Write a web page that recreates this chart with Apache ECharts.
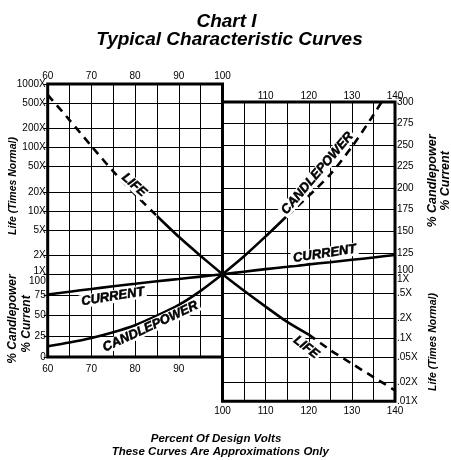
<!DOCTYPE html>
<html><head><meta charset="utf-8">
<script src="https://cdn.jsdelivr.net/npm/echarts@6/dist/echarts.min.js"></script>
<style>html,body{margin:0;padding:0;background:#fff}#c{width:451px;height:460px}</style>
</head><body><div id="c"></div>
<script>
// ---- data ----
const voltsLeft  = [60, 65, 70, 75, 80, 85, 90, 95, 100];
const voltsRight = [100, 105, 110, 115, 120, 125, 130, 135, 140];
const lifeLeft   = [676, 270, 105, 42, 18.2, 8.3, 3.9, 1.95, 1];
const lifeRight  = [1, 0.55, 0.31, 0.178, 0.112, 0.064, 0.039, 0.024, 0.0148];
const candleLeft  = [13, 17.5, 23, 30, 38.5, 50, 63, 80, 100];
const candleRight = [100, 121, 144, 168, 191, 216, 248, 285, 325];
const currentLeft  = [75.5, 79, 82.3, 85.5, 88.5, 91.5, 94.3, 97.2, 100];
const currentRight = [100, 103, 106, 108.7, 111.5, 114, 116.8, 119.5, 122.5];

const lifeTicksLeft = [1000, 500, 200, 100, 50, 20, 10, 5, 2, 1];
const lifeTickLabelsLeft = ['1000X', '500X', '200X', '100X', '50X', '20X', '10X', '5X', '2X', '1X'];
const lifeTicksRight = [1, 0.5, 0.2, 0.1, 0.05, 0.02, 0.01];
const lifeTickLabelsRight = ['1X', '.5X', '.2X', '.1X', '.05X', '.02X', '.01X'];
const pctTicksLeft = [0, 25, 50, 75, 100];
const pctTicksRight = [100, 125, 150, 175, 200, 225, 250, 275, 300];
const voltTicksTopLeft = [60, 70, 80, 90, 100];
const voltTicksBottomLeft = [60, 70, 80, 90];
const voltTicksTopRight = [110, 120, 130, 140];
const voltTicksBottomRight = [100, 110, 120, 130, 140];

// curve annotation texts (data coordinates)
const curveLabels = [
  {text: 'LIFE', volts: 79.75, value: 25.6, grid: 0, axis: 'life'},
  {text: 'CURRENT', volts: 74.9, value: 72.9, grid: 0, axis: 'pct'},
  {text: 'CANDLEPOWER', volts: 83.5, value: 36.6, grid: 0, axis: 'pct'},
  {text: 'CANDLEPOWER', volts: 122.0, value: 217.2, grid: 1, axis: 'pct'},
  {text: 'CURRENT', volts: 123.7, value: 123.9, grid: 1, axis: 'pct'},
  {text: 'LIFE', volts: 119.4, value: 0.0706, grid: 1, axis: 'life'}
];
const labelAngles = [-42, 9, 25, 49.5, 8.5, -38];

// ---- chart ----
const FONT = 'Liberation Sans';
const log = v => Math.log10(v);
function nearestIdx(arr, v) {
  let b = 0;
  for (let i = 1; i < arr.length; i++) if (Math.abs(arr[i] - v) < Math.abs(arr[b] - v)) b = i;
  return b;
}
function seg(xs, ys, a, b, tf) {
  const out = [];
  for (let i = a; i <= b; i++) out.push([xs[i], tf ? tf(ys[i]) : ys[i]]);
  return out;
}
const axisText = {color: '#000', fontSize: 10, fontFamily: FONT};
const split = {show: true, lineStyle: {color: '#000', width: 1}};
const noLine = {show: false};

const lifeLeftLog = lifeTicksLeft.map(log);
const lifeRightLog = lifeTicksRight.map(log);

function xAx(grid, pos, min, max, ticks, margin, showSplit) {
  return {
    gridIndex: grid, type: 'value', position: pos, min: min, max: max, interval: 5,
    axisLine: noLine, axisTick: {show: false},
    splitLine: showSplit ? split : {show: false},
    axisLabel: Object.assign({}, axisText, {margin: margin, customValues: ticks})
  };
}

// y axes: 0 life-left, 1 pct-left, 2 pct-right, 3 life-right
const yAxes = [
  {
    gridIndex: 0, type: 'value', position: 'left', min: -1.304, max: 3 + 1e-9,
    axisLine: noLine,
    axisTick: {show: true, length: 4, customValues: lifeLeftLog, lineStyle: {color: '#000'}},
    axisLabel: Object.assign({}, axisText, {
      margin: 2, customValues: lifeLeftLog,
      formatter: v => { const i = nearestIdx(lifeLeftLog, v); const s = lifeTickLabelsLeft[i]; return lifeTicksLeft[i] === 1 ? '{up|' + s + '}' : s; },
      rich: {up: Object.assign({}, axisText, {padding: [0, 0, 7, 0]})}
    }),
    splitLine: split
  },
  {
    gridIndex: 0, type: 'value', position: 'left', min: 0, max: 330.1,
    axisLine: noLine,
    axisTick: {show: true, length: 4, customValues: pctTicksLeft, lineStyle: {color: '#000'}},
    axisLabel: Object.assign({}, axisText, {
      margin: 2, customValues: pctTicksLeft,
      formatter: v => { const i = nearestIdx(pctTicksLeft, v); const s = String(pctTicksLeft[i]); return pctTicksLeft[i] === 100 ? '{dn|' + s + '}' : s; },
      rich: {dn: Object.assign({}, axisText, {padding: [13, 0, 0, 0]})}
    }),
    splitLine: split
  },
  {
    gridIndex: 1, type: 'value', position: 'right', min: -47.3, max: 300,
    axisLine: noLine,
    axisTick: {show: false, customValues: pctTicksRight},
    axisLabel: Object.assign({}, axisText, {
      margin: 2, customValues: pctTicksRight,
      formatter: v => { const i = nearestIdx(pctTicksRight, v); const s = String(pctTicksRight[i]); return pctTicksRight[i] === 100 ? '{up|' + s + '}' : s; },
      rich: {up: Object.assign({}, axisText, {padding: [0, 0, 8, 0]})}
    }),
    splitLine: split
  },
  {
    gridIndex: 1, type: 'value', position: 'right', min: -2 - 1e-9, max: 2.717,
    axisLine: noLine,
    axisTick: {show: false, customValues: lifeRightLog},
    axisLabel: Object.assign({}, axisText, {
      margin: 2, customValues: lifeRightLog,
      formatter: v => { const i = nearestIdx(lifeRightLog, v); const s = lifeTickLabelsRight[i]; return lifeTicksRight[i] === 1 ? '{dn|' + s + '}' : s; },
      rich: {dn: Object.assign({}, axisText, {padding: [10, 0, 0, 0]})}
    }),
    splitLine: split
  }
];

function lineSeries(data, xi, yi, dashed) {
  return {
    type: 'line', data: data, xAxisIndex: xi, yAxisIndex: yi,
    showSymbol: false, symbol: 'none', smooth: 0.25, z: 3,
    lineStyle: {color: '#000', width: 2.6, type: dashed ? [8, 6] : 'solid', cap: 'butt'},
    silent: true
  };
}

const series = [
  lineSeries(seg(voltsLeft, lifeLeft, 0, 5, log), 0, 0, true),
  lineSeries(seg(voltsLeft, lifeLeft, 5, 8, log), 0, 0, false),
  lineSeries(seg(voltsRight, lifeRight, 0, 4, log), 2, 3, false),
  lineSeries(seg(voltsRight, lifeRight, 4, 8, log), 2, 3, true),
  lineSeries(seg(voltsLeft, candleLeft, 0, 8), 0, 1, false),
  lineSeries(seg(voltsRight, candleRight, 0, 3), 2, 2, false),
  lineSeries(seg(voltsRight, candleRight, 3, 8), 2, 2, true),
  lineSeries(seg(voltsLeft, currentLeft, 0, 8), 0, 1, false),
  lineSeries(seg(voltsRight, currentRight, 0, 8), 2, 2, false)
];

curveLabels.forEach((c, i) => {
  const xi = c.grid === 0 ? 0 : 2;
  const yi = c.grid === 0 ? (c.axis === 'life' ? 0 : 1) : (c.axis === 'life' ? 3 : 2);
  const y = c.axis === 'life' ? log(c.value) : c.value;
  series.push({
    type: 'scatter', xAxisIndex: xi, yAxisIndex: yi, z: 10, silent: true,
    symbol: 'circle', symbolSize: 0, itemStyle: {color: '#000'},
    data: [[c.volts, y]],
    label: {
      show: true, position: 'inside', formatter: c.text, rotate: labelAngles[i],
      color: '#000', opacity: 1, fontFamily: FONT, fontSize: 13, fontWeight: 'bold', fontStyle: 'italic',
      backgroundColor: '#fff', padding: [0, 2], textBorderColor: '#000', textBorderWidth: 0.5
    }
  });
});

function txt(text, x, y, size, rot) {
  const font = 'italic bold ' + size + 'px "' + FONT + '"';
  return {
    type: 'text', x: x, y: y, rotation: rot || 0, z: 20, silent: true,
    style: {text: text, font: font, fill: '#000', align: 'center', verticalAlign: 'middle',
            textAlign: 'center', textVerticalAlign: 'middle'}
  };
}
const R90 = Math.PI / 2;

const option = {
  backgroundColor: '#fff',
  animation: false,
  grid: [
    {left: 47.7, top: 84, width: 174.8, height: 273, show: true, borderColor: '#000', borderWidth: 3,
     backgroundColor: 'transparent', containLabel: false, outerBoundsMode: 'none'},
    {left: 222.5, top: 102, width: 172.5, height: 299.2, show: true, borderColor: '#000', borderWidth: 3,
     backgroundColor: 'transparent', containLabel: false, outerBoundsMode: 'none'}
  ],
  xAxis: [
    xAx(0, 'top', 60, 100, voltTicksTopLeft, 3, true),
    xAx(0, 'bottom', 60, 100, voltTicksBottomLeft, 7, false),
    xAx(1, 'top', 100, 140, voltTicksTopRight, 1, true),
    xAx(1, 'bottom', 100, 140, voltTicksBottomRight, 5, false)
  ],
  yAxis: yAxes,
  series: series,
  graphic: [
    txt('Chart I', 226.5, 22, 19),
    txt('Typical Characteristic Curves', 229.5, 40, 19),
    txt('Percent Of Design Volts', 216, 439, 11.5),
    txt('These Curves Are Approximations Only', 220.3, 452, 11.5),
    txt('Life (Times Normal)', 13, 186, 10.5, R90),
    txt('% Candlepower', 12.5, 319, 12, R90),
    txt('% Current', 27, 324, 12, R90),
    txt('% Candlepower', 433, 181, 12.5, R90),
    txt('% Current', 446, 181, 12.5, R90),
    txt('Life (Times Normal)', 433, 342, 10.5, R90)
  ]
};

const chart = echarts.init(document.getElementById('c'), null, {renderer: 'canvas'});
chart.setOption(option);
</script>
</body></html>
